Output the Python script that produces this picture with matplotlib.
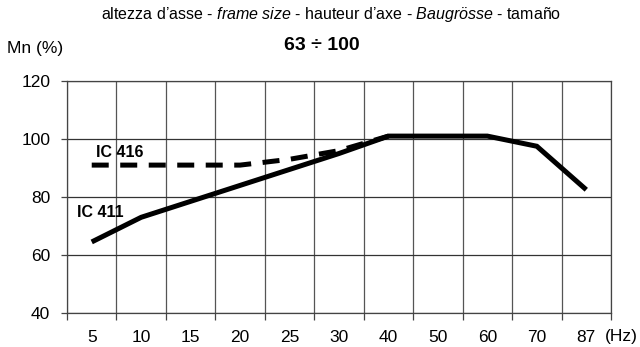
import matplotlib
matplotlib.use("Agg")
import matplotlib.pyplot as plt
import numpy as np

plt.rcParams["font.family"] = ["Liberation Sans", "DejaVu Sans"]
plt.rcParams["mathtext.fontset"] = "custom"
plt.rcParams["mathtext.rm"] = "Liberation Sans"
plt.rcParams["mathtext.it"] = "Liberation Sans:italic"

# frequency steps (Hz) - plotted as evenly spaced categories
freqs = ["5", "10", "15", "20", "25", "30", "40", "50", "60", "70", "87"]

# permissible torque Mn (%) vs frequency
ic411 = [64.5, 73, 78.5, 84, 89.5, 95, 101, 101, 101, 97.5, 82.5]
ic416 = [91, 91, 91, 91, 93, 96, 101, 101, 101, 97.5, 82.5]

y_ticks = [40, 60, 80, 100, 120]

fig = plt.figure(figsize=(6.4, 3.47), dpi=100)
ax = fig.add_axes([67 / 640, 34 / 347, 544 / 640, 232 / 347])

x = np.arange(len(freqs))
ax.plot(x[:7], ic416[:7], color="black", lw=3.6, linestyle=(0, (3.4, 2.3)),
        dash_capstyle="butt", zorder=3)
ax.plot(x, ic411, color="black", lw=3.6, solid_capstyle="butt",
        solid_joinstyle="miter", zorder=4)

ax.set_xlim(-0.5, len(freqs) - 0.5)
ax.set_ylim(40, 120)

# labels at category centres, grid on the boundaries
ax.set_xticks(x)
ax.set_xticklabels(freqs)
ax.set_xticks(np.arange(len(freqs) + 1) - 0.5, minor=True)
ax.tick_params(axis="x", which="major", length=0, pad=12, labelsize=12.5)
ax.tick_params(axis="x", which="minor", length=5, width=0.9, color="#444")
ax.set_yticks(y_ticks)
ax.tick_params(axis="y", length=4, width=0.9, color="#444", pad=8, labelsize=12.5)

ax.grid(True, which="minor", axis="x", color="#555", lw=0.9)
ax.grid(True, which="major", axis="y", color="#333", lw=0.9)
for s in ax.spines.values():
    s.set_color("#444")
    s.set_linewidth(0.9)

ax.text(0.08, 95.2, "IC 416", fontsize=11.5, fontweight="bold", va="center")
ax.text(-0.3, 74.8, "IC 411", fontsize=11.5, fontweight="bold", va="center")

fig.text(331 / 640, 1 - 15 / 347,
         "altezza d\u2019asse - $\\it{frame\\ size}$ - hauteur d\u2019axe - "
         "$\\it{Baugr\u00f6sse}$ - tama\u00f1o",
         ha="center", va="center", fontsize=11.5)
fig.text(322 / 640, 1 - 46 / 347, "63 \u00f7 100", ha="center", va="center",
         fontsize=14, fontweight="bold")
fig.text(7 / 640, 1 - 49 / 347, "Mn (%)", ha="left", va="center", fontsize=12.5)
fig.text(621 / 640, 1 - 337 / 347, "(Hz)", ha="center", va="center", fontsize=12.5)

fig.savefig("out.png", dpi=100)
